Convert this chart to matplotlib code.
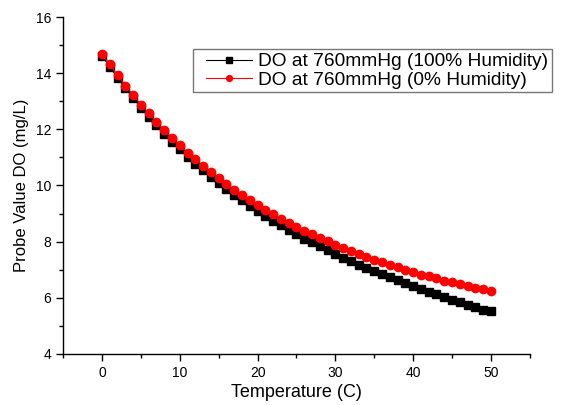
import matplotlib
matplotlib.use("Agg")
import matplotlib.pyplot as plt
from matplotlib.ticker import MultipleLocator
from matplotlib.lines import Line2D
from matplotlib.legend_handler import HandlerLine2D

temperature = list(range(0, 51))
do_100_humidity = [14.62, 14.22, 13.83, 13.46, 13.11, 12.77, 12.45, 12.14, 11.84, 11.56,
                   11.29, 11.03, 10.78, 10.54, 10.31, 10.08, 9.87, 9.66, 9.47, 9.28,
                   9.09, 8.91, 8.74, 8.58, 8.42, 8.26, 8.11, 7.97, 7.83, 7.69,
                   7.56, 7.43, 7.30, 7.18, 7.06, 6.95, 6.84, 6.73, 6.62, 6.51,
                   6.41, 6.31, 6.21, 6.12, 6.02, 5.93, 5.84, 5.75, 5.66, 5.58, 5.52]
do_0_humidity = [14.68, 14.31, 13.93, 13.56, 13.22, 12.88, 12.57, 12.26, 11.97, 11.69,
                 11.43, 11.17, 10.93, 10.70, 10.48, 10.25, 10.05, 9.85, 9.67, 9.49,
                 9.30, 9.13, 8.97, 8.82, 8.68, 8.53, 8.39, 8.26, 8.13, 8.01,
                 7.89, 7.77, 7.66, 7.56, 7.45, 7.36, 7.27, 7.17, 7.08, 6.99,
                 6.91, 6.83, 6.76, 6.69, 6.61, 6.55, 6.49, 6.42, 6.36, 6.31, 6.25]

plt.rcParams['font.family'] = ['Liberation Sans', 'DejaVu Sans']

fig = plt.figure(figsize=(5.74, 4.05), dpi=100)
ax = fig.add_axes([0.110, 0.126, 0.813, 0.832])

ax.plot(temperature, do_100_humidity, color='black', marker='s', markersize=5.5,
        linewidth=0.8, label='DO at 760mmHg (100% Humidity)')
ax.plot(temperature, do_0_humidity, color='red', marker='o', markersize=6,
        linewidth=0.8, label='DO at 760mmHg (0% Humidity)')

ax.set_xlim(-5, 55)
ax.set_ylim(4, 16)
ax.xaxis.set_major_locator(MultipleLocator(10))
ax.xaxis.set_minor_locator(MultipleLocator(5))
ax.yaxis.set_major_locator(MultipleLocator(2))
ax.yaxis.set_minor_locator(MultipleLocator(1))
ax.tick_params(which='major', direction='out', length=5, width=1, labelsize=10)
ax.tick_params(which='minor', direction='out', length=3, width=1)
for s in ['top', 'right']:
    ax.spines[s].set_visible(False)
for s in ['left', 'bottom']:
    ax.spines[s].set_linewidth(1)

ax.set_xlabel('Temperature (C)', fontsize=13, labelpad=3)
ax.set_ylabel('Probe Value DO (mg/L)', fontsize=12, labelpad=5)

leg = ax.legend(loc='upper left', bbox_to_anchor=(0.278, 0.905), fontsize=13.8,
                frameon=True, fancybox=False, edgecolor='#555555', borderpad=0.2,
                handlelength=2.9, handletextpad=0.3, labelspacing=0.05, borderaxespad=0,
                markerscale=0.7, handler_map={Line2D: HandlerLine2D(xpad=0.5)})
leg.get_frame().set_linewidth(1)

fig.savefig('out.png', dpi=100)
